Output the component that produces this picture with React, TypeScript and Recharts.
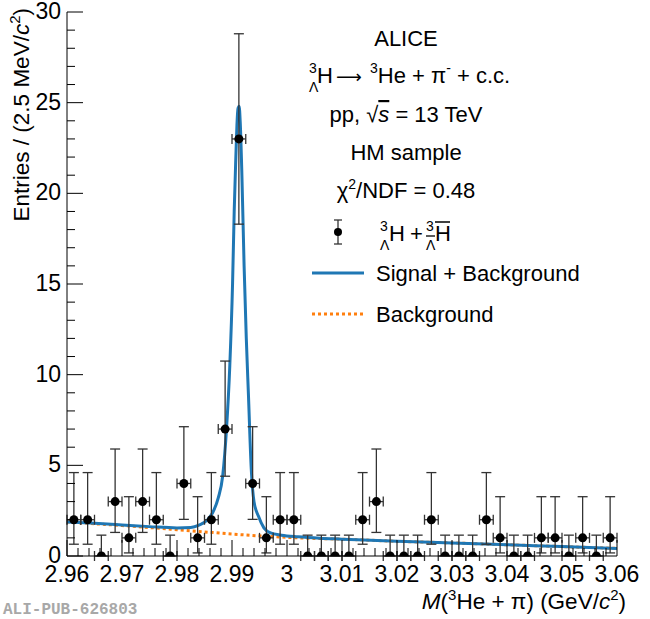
import React from "react";
import {
  ComposedChart,
  Line,
  Scatter,
  ErrorBar,
  XAxis,
  YAxis,
} from "recharts";

// bin centres (2.5 MeV bins)
const binCenters = [
  2.96125, 2.96375, 2.96625, 2.96875, 2.97125, 2.97375, 2.97625, 2.97875,
  2.98125, 2.98375, 2.98625, 2.98875, 2.99125, 2.99375, 2.99625, 2.99875,
  3.00125, 3.00375, 3.00625, 3.00875, 3.01125, 3.01375, 3.01625, 3.01875,
  3.02125, 3.02375, 3.02625, 3.02875, 3.03125, 3.03375, 3.03625, 3.03875,
  3.04125, 3.04375, 3.04625, 3.04875, 3.05125, 3.05375, 3.05625, 3.05875,
];
const counts = [
  2, 2, 0, 3, 1, 3, 2, 0, 4, 1, 2, 7, 23, 4, 1, 2, 2, 0, 0, 0, 0, 2, 3, 0, 0,
  0, 2, 0, 0, 0, 2, 1, 0, 0, 1, 1, 0, 1, 0, 1,
];
const errLow = [
  1.35, 1.35, 0, 1.7, 0.83, 1.7, 1.35, 0, 1.98, 0.83, 1.35, 2.6, 4.7, 1.98,
  0.83, 1.35, 1.35, 0, 0, 0, 0, 1.35, 1.7, 0, 0, 0, 1.35, 0, 0, 0, 1.35, 0.83,
  0, 0, 0.83, 0.83, 0, 0.83, 0, 0.83,
];
const errHigh = [
  2.6, 2.6, 1.15, 2.9, 2.27, 2.9, 2.6, 1.15, 3.13, 2.27, 2.6, 3.75, 5.8, 3.13,
  2.27, 2.6, 2.6, 1.15, 1.15, 1.15, 1.15, 2.6, 2.9, 1.15, 1.15, 1.15, 2.6,
  1.15, 1.15, 1.15, 2.6, 2.27, 1.15, 1.15, 2.27, 2.27, 1.15, 2.27, 1.15, 2.27,
];
const binHalfWidth = 0.00125;

// fit: signal + background
const fitMass = [
  2.96, 2.965, 2.97, 2.975, 2.98, 2.9825, 2.984, 2.9855, 2.9865, 2.9875,
  2.9883, 2.989, 2.9896, 2.9901, 2.9904, 2.9907, 2.9909, 2.9911, 2.9913,
  2.9915, 2.9918, 2.9922, 2.9926, 2.993, 2.9935, 2.994, 2.9948, 2.9958, 2.997,
  2.999, 3.002, 3.006, 3.01, 3.02, 3.03, 3.04, 3.05, 3.06,
];
const fitTotal = [
  1.88, 1.8, 1.71, 1.62, 1.55, 1.57, 1.7, 1.98, 2.4, 3.2, 4.4, 7.0, 10.5, 15.0,
  19.0, 22.0, 23.8, 24.7, 24.8, 23.9, 21.0, 16.0, 12.0, 8.8, 4.8, 3.0, 2.2,
  1.55, 1.27, 1.15, 1.06, 0.98, 0.93, 0.81, 0.72, 0.62, 0.52, 0.42,
];
// background only
const bkgMass = [
  2.96, 2.965, 2.97, 2.975, 2.98, 2.985, 2.99, 2.995, 3.0, 3.005, 3.01, 3.02,
  3.03, 3.04, 3.05, 3.06,
];
const bkgValues = [
  1.88, 1.78, 1.68, 1.57, 1.45, 1.33, 1.21, 1.11, 1.03, 0.97, 0.93, 0.81, 0.72,
  0.62, 0.52, 0.42,
];

const xMajorTicks = [2.96, 2.97, 2.98, 2.99, 3.0, 3.01, 3.02, 3.03, 3.04, 3.05, 3.06];
const xTickLabels = ["2.96", "2.97", "2.98", "2.99", "3", "3.01", "3.02", "3.03", "3.04", "3.05", "3.06"];
const yMajorTicks = [0, 5, 10, 15, 20, 25, 30];
const yTickLabels = ["0", "5", "10", "15", "20", "25", "30"];

const xAllTicks = Array.from({ length: 51 }, (_, i) => Math.round((2.96 + i * 0.002) * 1e4) / 1e4);
const yAllTicks = Array.from({ length: 31 }, (_, i) => i);

const points = binCenters.map((x, i) => ({
  x,
  y: counts[i],
  ey: [errLow[i], errHigh[i]],
  ex: binHalfWidth,
}));
const fitData = fitMass.map((x, i) => ({ x, v: fitTotal[i] }));
const bkgData = bkgMass.map((x, i) => ({ x, v: bkgValues[i] }));

const FONT = "'Liberation Sans', Arial, Helvetica, sans-serif";
const BLUE = "#1f77b4";
const ORANGE = "#ff7f0e";
const MAJOR = 16;
const MINOR = 8;
const TEXT_SIZE = 22;

const majorIndex = (arr: number[], v: number) =>
  arr.findIndex(t => Math.abs(t - v) < 1e-6);

const BottomTick = (props: any) => {
  const { x, y, payload } = props;
  const idx = majorIndex(xMajorTicks, payload.value);
  return (
    <g>
      <line x1={x} x2={x} y1={y} y2={y - (idx >= 0 ? MAJOR : MINOR)} stroke="#000" />
      {idx >= 0 && (
        <text x={x} y={y + 26} textAnchor="middle" fontSize={23} fontFamily={FONT} fill="#000">
          {xTickLabels[idx]}
        </text>
      )}
    </g>
  );
};

const TopTick = (props: any) => {
  const { x, y, payload } = props;
  const idx = majorIndex(xMajorTicks, payload.value);
  return <line x1={x} x2={x} y1={y} y2={y + (idx >= 0 ? MAJOR : MINOR)} stroke="#000" />;
};

const LeftTick = (props: any) => {
  const { x, y, payload } = props;
  const idx = majorIndex(yMajorTicks, payload.value);
  return (
    <g>
      <line x1={x} x2={x + (idx >= 0 ? MAJOR : MINOR)} y1={y} y2={y} stroke="#000" />
      {idx >= 0 && (
        <text x={x - 6} y={y + 7} textAnchor="end" fontSize={23} fontFamily={FONT} fill="#000">
          {yTickLabels[idx]}
        </text>
      )}
    </g>
  );
};

const RightTick = (props: any) => {
  const { x, y, payload } = props;
  const idx = majorIndex(yMajorTicks, payload.value);
  return <line x1={x} x2={x - (idx >= 0 ? MAJOR : MINOR)} y1={y} y2={y} stroke="#000" />;
};

const Dot = (props: any) => {
  const { cx, cy } = props;
  if (cx == null || cy == null) return null;
  return <circle cx={cx} cy={cy} r={4.5} fill="#000" />;
};

// text block and legend drawn on top of the plot
const Annotations = () => (
  <svg
    width={650}
    height={619}
    style={{ position: "absolute", left: 0, top: 0, pointerEvents: "none" }}
    fontFamily={FONT}
    fill="#000"
  >
    <text x={406} y={46} textAnchor="middle" fontSize={TEXT_SIZE}>ALICE</text>

    <text x={309} y={83} fontSize={TEXT_SIZE}>
      <tspan fontSize={14} dy={-10}>3</tspan>
      <tspan fontSize={14} x={309} dy={19}>Λ</tspan>
      <tspan x={317} dy={-9}>H</tspan>
      <tspan x={336} fontSize={18} fontFamily="'DejaVu Sans', sans-serif">⟶</tspan>
      <tspan fontSize={14} x={370} dy={-10}>3</tspan>
      <tspan dy={10}>He + π</tspan>
      <tspan fontSize={14} dy={-10}>-</tspan>
      <tspan dy={10}> + c.c.</tspan>
    </text>

    <text x={406} y={122} textAnchor="middle" fontSize={TEXT_SIZE}>
      pp, √<tspan fontStyle="italic" textDecoration="overline">s</tspan> = 13 TeV
    </text>

    <text x={406} y={160} textAnchor="middle" fontSize={TEXT_SIZE}>HM sample</text>

    <text x={406} y={198} textAnchor="middle" fontSize={TEXT_SIZE}>
      χ<tspan fontSize={14} dy={-9}>2</tspan>
      <tspan dy={9}>/NDF = 0.48</tspan>
    </text>

    {/* legend: data */}
    <line x1={338} x2={338} y1={220} y2={244} stroke="#333" strokeWidth={1.3} />
    <line x1={334} x2={342} y1={220} y2={220} stroke="#333" strokeWidth={1.3} />
    <line x1={334} x2={342} y1={244} y2={244} stroke="#333" strokeWidth={1.3} />
    <circle cx={338} cy={232} r={4} fill="#000" />
    <text x={380} y={241} fontSize={TEXT_SIZE}>
      <tspan fontSize={14} dy={-10}>3</tspan>
      <tspan fontSize={14} x={380} dy={19}>Λ</tspan>
      <tspan x={389} dy={-9}>H</tspan>
      <tspan x={410}>+</tspan>
      <tspan fontSize={14} x={426} dy={-10}>3</tspan>
      <tspan fontSize={14} x={426} dy={19}>Λ</tspan>
      <tspan x={435} dy={-9}>H</tspan>
    </text>
    {/* bars over the antiparticle symbols */}
    <line x1={426} x2={435} y1={236} y2={236} stroke="#000" strokeWidth={1.3} />
    <line x1={435} x2={450} y1={222} y2={222} stroke="#000" strokeWidth={1.5} />

    {/* legend: fit */}
    <line x1={312} x2={364} y1={273} y2={273} stroke={BLUE} strokeWidth={3} />
    <text x={376} y={281} fontSize={TEXT_SIZE}>Signal + Background</text>

    <line x1={312} x2={364} y1={314} y2={314} stroke={ORANGE} strokeWidth={3} strokeDasharray="3 3" />
    <text x={376} y={322} fontSize={TEXT_SIZE}>Background</text>

    {/* axis titles */}
    <text x={626} y={609} textAnchor="end" fontSize={22.5}>
      <tspan fontStyle="italic">M</tspan>(
      <tspan fontSize={15} dy={-9}>3</tspan>
      <tspan dy={9}>He + π) (GeV/</tspan>
      <tspan fontStyle="italic">c</tspan>
      <tspan fontSize={15} dy={-9}>2</tspan>
      <tspan dy={9}>)</tspan>
    </text>
    <text transform="translate(29, 8) rotate(-90)" textAnchor="end" fontSize={22.5}>
      Entries / (2.5 MeV/<tspan fontStyle="italic">c</tspan>
      <tspan fontSize={15} dy={-9}>2</tspan>
      <tspan dy={9}>)</tspan>
    </text>

    <text x={3} y={614} fontSize={16} fontWeight="bold" fontFamily="'Liberation Mono', 'Courier New', monospace" fill="#a8a8a8">
      ALI-PUB-626803
    </text>
  </svg>
);

export default function App() {
  return (
    <div style={{ position: "absolute", left: 0, top: 0, width: 650, height: 619, background: "#fff" }}>
      <ComposedChart
        width={650}
        height={619}
        margin={{ top: 12, right: 33, left: 0, bottom: 0 }}
      >
        <XAxis
          xAxisId="b"
          dataKey="x"
          type="number"
          orientation="bottom"
          domain={[2.96, 3.06]}
          allowDataOverflow
          ticks={xAllTicks}
          interval={0}
          height={63}
          tickSize={0}
          tickMargin={0}
          tickLine={false}
          tick={BottomTick}
          axisLine={{ stroke: "#000" }}
        />
        <XAxis
          xAxisId="t"
          dataKey="x"
          type="number"
          orientation="top"
          domain={[2.96, 3.06]}
          allowDataOverflow
          ticks={xAllTicks}
          interval={0}
          height={0}
          tickSize={0}
          tickMargin={0}
          tickLine={false}
          tick={TopTick}
          axisLine={{ stroke: "#000" }}
        />
        <YAxis
          yAxisId="l"
          type="number"
          orientation="left"
          domain={[0, 30]}
          allowDataOverflow
          ticks={yAllTicks}
          interval={0}
          width={67}
          tickSize={0}
          tickMargin={0}
          tickLine={false}
          tick={LeftTick}
          axisLine={{ stroke: "#000" }}
        />
        <YAxis
          yAxisId="r"
          type="number"
          orientation="right"
          domain={[0, 30]}
          allowDataOverflow
          ticks={yAllTicks}
          interval={0}
          width={0}
          tickSize={0}
          tickMargin={0}
          tickLine={false}
          tick={RightTick}
          axisLine={{ stroke: "#000" }}
        />
        <Line
          xAxisId="b"
          yAxisId="l"
          data={bkgData}
          dataKey="v"
          type="monotone"
          stroke={ORANGE}
          strokeWidth={3}
          strokeDasharray="3 3"
          dot={false}
          isAnimationActive={false}
        />
        <Line
          xAxisId="b"
          yAxisId="l"
          data={fitData}
          dataKey="v"
          type="monotone"
          stroke={BLUE}
          strokeWidth={3}
          dot={false}
          isAnimationActive={false}
        />
        <Scatter
          xAxisId="b"
          yAxisId="l"
          data={points}
          dataKey="y"
          shape={Dot}
          isAnimationActive={false}
        >
          <ErrorBar dataKey="ey" direction="y" width={5} stroke="#333" strokeWidth={1.3} />
          <ErrorBar dataKey="ex" direction="x" width={5} stroke="#333" strokeWidth={1.3} />
        </Scatter>
      </ComposedChart>
      <Annotations />
    </div>
  );
}
